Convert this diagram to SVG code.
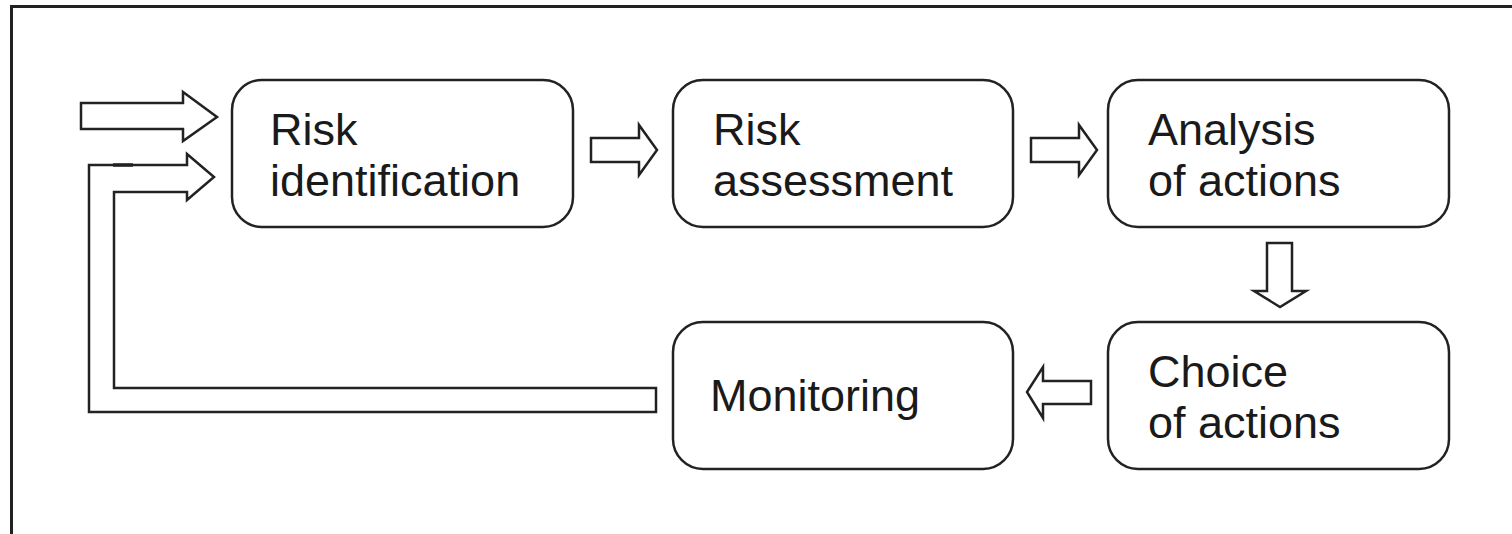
<svg xmlns="http://www.w3.org/2000/svg" width="1512" height="534" viewBox="0 0 1512 534">
<style>
.box{fill:#fff;stroke:#222;stroke-width:2.5}
.arr{fill:#fff;stroke:#222;stroke-width:2.5;stroke-linejoin:miter}
.lbl{font-family:"Liberation Sans",Arial,sans-serif;font-size:45px;fill:#1a1a1a}
</style>
<rect width="1512" height="534" fill="#fff"/>
<path id="frame" d="M11.5,534 V6.5 H1512" fill="none" stroke="#222" stroke-width="3"/>
<g id="connectors">
<polygon class="arr" points="81,103 183,103 183,92 217,117 183,141 183,129 81,129"/>
<polygon class="arr" points="89,165 187,165 187,154 214,177 187,200 187,192 114,192 114,388 656,388 656,412 89,412"/>
<line x1="113" y1="165" x2="133" y2="165" stroke="#222" stroke-width="3.5"/>
<polygon class="arr" points="591,138 639,138 639,125 657,150 639,175 639,162 591,162"/>
<polygon class="arr" points="1031,138 1079,138 1079,125 1097,150 1079,175 1079,162 1031,162"/>
<polygon class="arr" points="1267,243 1292,243 1292,291 1306,291 1280,307 1254,291 1267,291"/>
<polygon class="arr" points="1091,381 1043,381 1043,367 1027,392 1043,418 1043,404 1091,404"/>
</g>
<g id="risk-identification">
<rect class="box" x="232" y="80" width="341" height="147" rx="30" ry="30"/>
<text class="lbl" x="270" y="145">Risk</text>
<text class="lbl" x="270" y="196">identification</text>
</g>
<g id="risk-assessment">
<rect class="box" x="673" y="80" width="340" height="147" rx="30" ry="30"/>
<text class="lbl" x="713" y="145">Risk</text>
<text class="lbl" x="713" y="196">assessment</text>
</g>
<g id="analysis-of-actions">
<rect class="box" x="1108" y="80" width="341" height="147" rx="30" ry="30"/>
<text class="lbl" x="1148" y="145">Analysis</text>
<text class="lbl" x="1148" y="196">of actions</text>
</g>
<g id="choice-of-actions">
<rect class="box" x="1108" y="322" width="341" height="147" rx="30" ry="30"/>
<text class="lbl" x="1148" y="387">Choice</text>
<text class="lbl" x="1148" y="438">of actions</text>
</g>
<g id="monitoring">
<rect class="box" x="673" y="322" width="340" height="147" rx="30" ry="30"/>
<text class="lbl" x="710" y="411">Monitoring</text>
</g>
</svg>
